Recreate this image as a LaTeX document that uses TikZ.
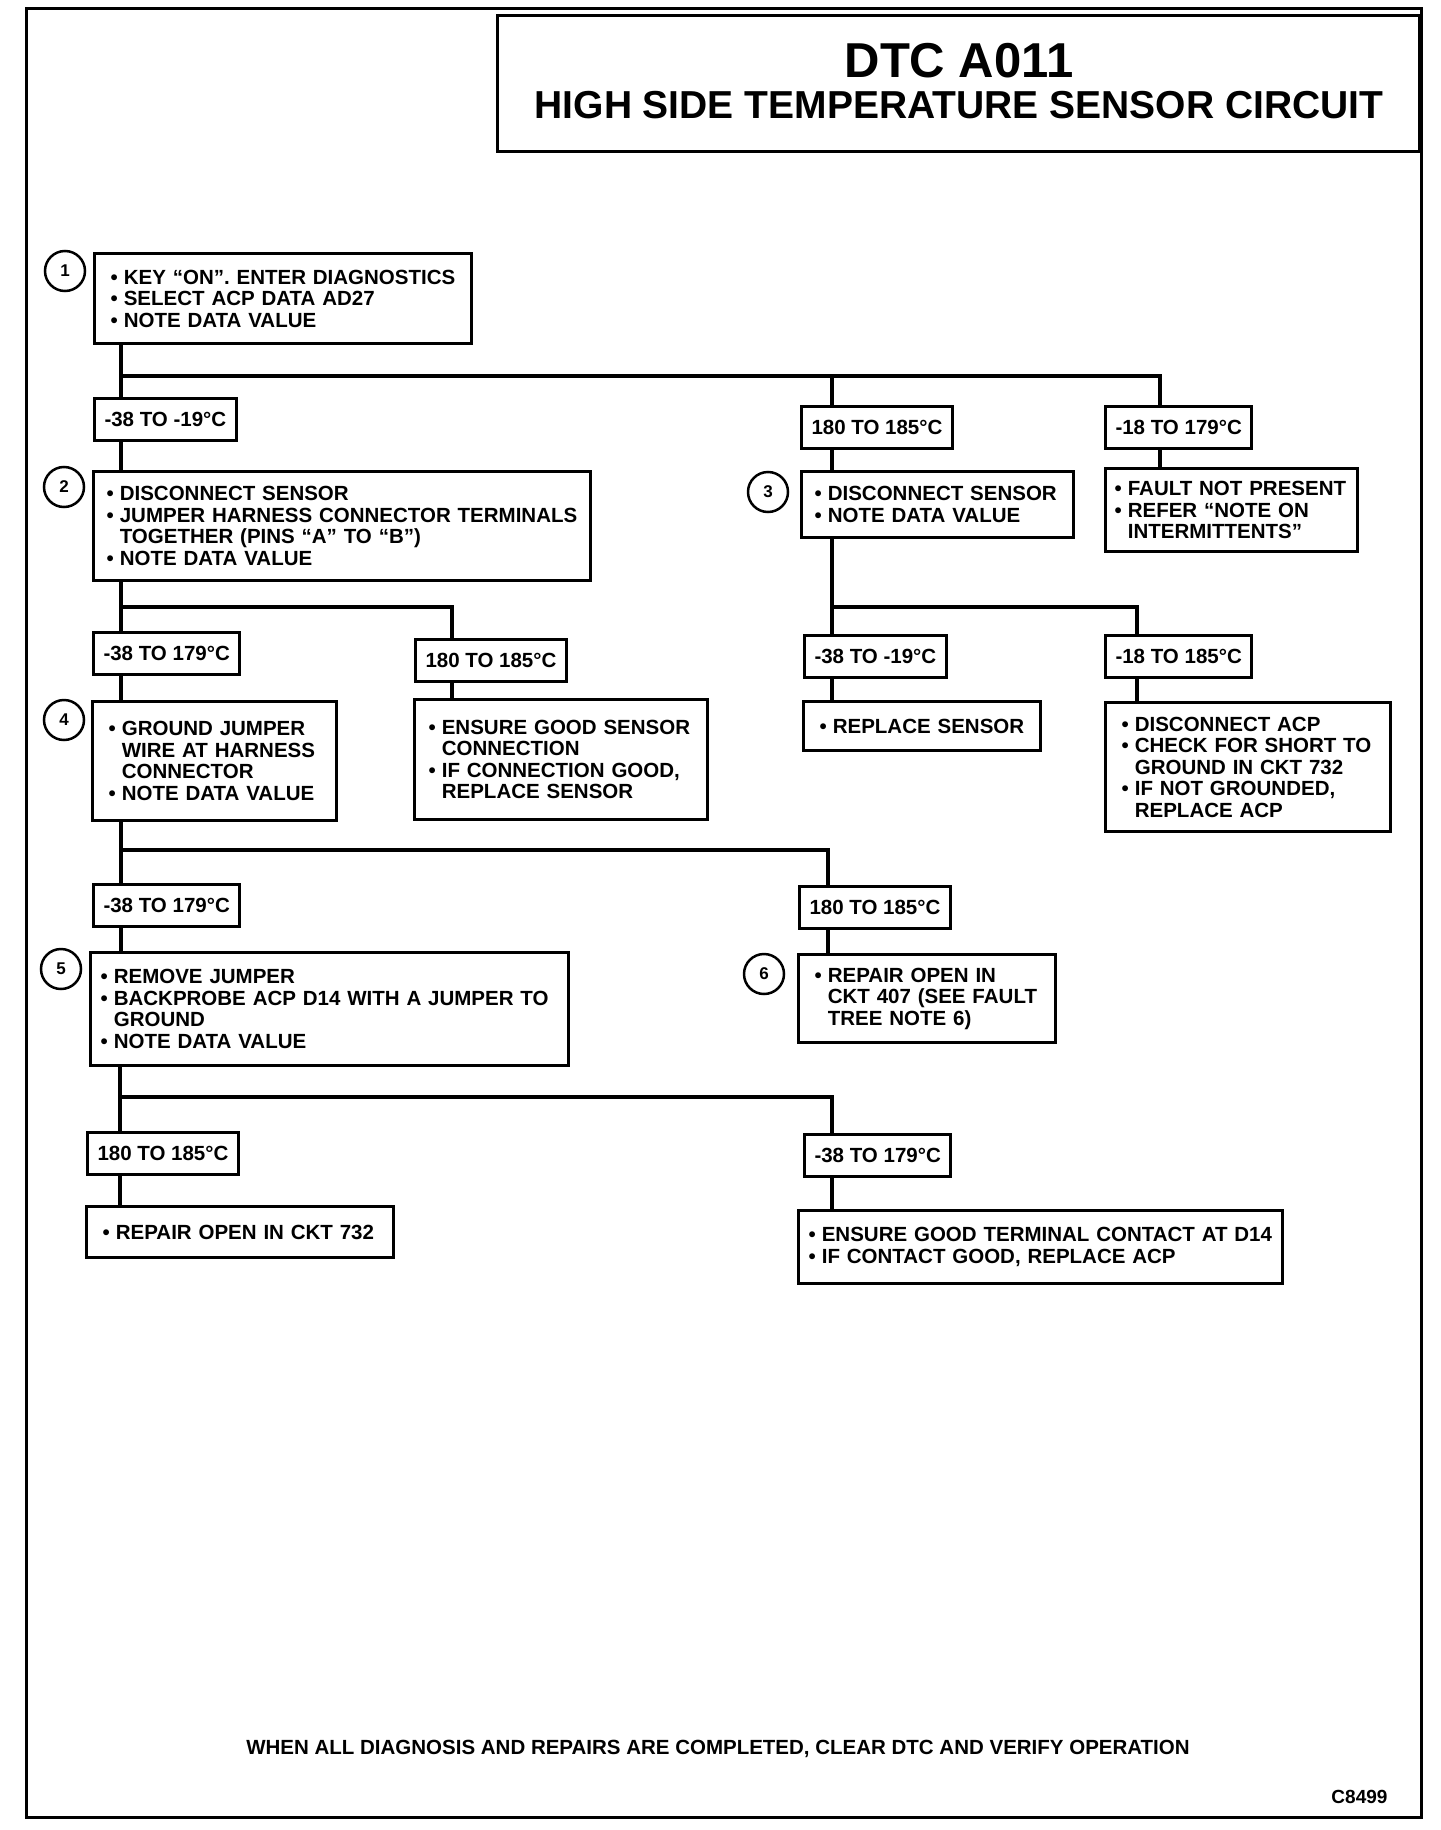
\documentclass[tikz,border=0pt]{standalone}
\usepackage{fontspec}
\setmainfont{Liberation Sans}
\newcommand{\bul}{\makebox[0.65em][l]{•}}
\newcommand{\ind}{\hspace*{0.65em}}
\tikzset{wire/.style={line width=4.5pt}}
\tikzset{stepbox/.style={draw,line width=3pt,anchor=north west,align=left,inner xsep=16pt,inner ysep=0pt}}
\tikzset{rangebox/.style={draw,line width=3pt,anchor=north west,inner xsep=10pt,inner ysep=0pt,minimum height=42pt}}
\tikzset{num/.style={draw,circle,line width=2.5pt,minimum size=40pt,inner sep=0pt,font=\fontsize{17}{17}\selectfont\bfseries}}
\begin{document}
\begin{tikzpicture}[x=1pt,y=-1pt,font=\fontsize{20.5}{21.5}\selectfont\bfseries]
\useasboundingbox(0,0)rectangle(1440,1830);
\draw[line width=3pt](26,9)rectangle(1421,1817);
\draw[line width=3pt](497,16)rectangle(1419,152);
\node(ttl)at(959,61){\fontsize{49}{49}\selectfont DTC A011};
\node(sub)at(959,105){\fontsize{39}{39}\selectfont HIGH SIDE TEMPERATURE SENSOR CIRCUIT};
\begin{scope}
\node(c1)[num]at(65,271){1};\node(c2)[num]at(64,487){2};\node(c3)[num]at(768,492){3};
\node(c4)[num]at(64,720){4};\node(c5)[num]at(61,969){5};\node(c6)[num]at(764,974){6};
\end{scope}
\node(s1)[stepbox,text width=345pt,minimum height=90pt]at(93,252){\bul KEY “ON”. ENTER DIAGNOSTICS\\\bul SELECT ACP DATA AD27\\\bul NOTE DATA VALUE};
\node(s2)[stepbox,inner xsep=13pt,text width=471pt,minimum height=109pt]at(92,470){\bul DISCONNECT SENSOR\\\bul JUMPER HARNESS CONNECTOR TERMINALS\\\ind TOGETHER (PINS “A” TO “B”)\\\bul NOTE DATA VALUE};
\node(s3)[stepbox,inner xsep=13pt,text width=246pt,minimum height=66pt]at(800,470){\bul DISCONNECT SENSOR\\\bul NOTE DATA VALUE};
\node(np)[stepbox,inner xsep=9pt,text width=234pt,minimum height=83pt]at(1104,467){\bul FAULT NOT PRESENT\\\bul REFER “NOTE ON\\\ind INTERMITTENTS”};
\node(s4)[stepbox,text width=212pt,minimum height=119pt]at(91,700){\bul GROUND JUMPER\\\ind WIRE AT HARNESS\\\ind CONNECTOR\\\bul NOTE DATA VALUE};
\node(ens)[stepbox,inner xsep=14pt,text width=265pt,minimum height=120pt]at(413,698){\bul ENSURE GOOD SENSOR\\\ind CONNECTION\\\bul IF CONNECTION GOOD,\\\ind REPLACE SENSOR};
\node(rep)[stepbox,text width=205pt,minimum height=49pt]at(802,700){\bul REPLACE SENSOR};
\node(dacp)[stepbox,text width=253pt,minimum height=129pt]at(1104,701){\bul DISCONNECT ACP\\\bul CHECK FOR SHORT TO\\\ind GROUND IN CKT 732\\\bul IF NOT GROUNDED,\\\ind REPLACE ACP};
\node(s5)[stepbox,inner xsep=10pt,text width=458pt,minimum height=113pt]at(89,951){\bul REMOVE JUMPER\\\bul BACKPROBE ACP D14 WITH A JUMPER TO\\\ind GROUND\\\bul NOTE DATA VALUE};
\node(s6)[stepbox,text width=225pt,minimum height=88pt]at(797,953){\bul REPAIR OPEN IN\\\ind CKT 407 (SEE FAULT\\\ind TREE NOTE 6)};
\node(rp732)[stepbox,text width=275pt,minimum height=51pt]at(85,1205){\bul REPAIR OPEN IN CKT 732};
\node(egt)[stepbox,inner xsep=10pt,text width=464pt,minimum height=73pt]at(797,1209){\bul ENSURE GOOD TERMINAL CONTACT AT D14\\\bul IF CONTACT GOOD, REPLACE ACP};
\node(r1a)[rangebox]at(93,397){-38 TO -19°C};\node(r1b)[rangebox]at(800,405){180 TO 185°C};\node(r1c)[rangebox]at(1104,405){-18 TO 179°C};
\node(r2a)[rangebox]at(92,631){-38 TO 179°C};\node(r2b)[rangebox]at(414,638){180 TO 185°C};
\node(r3a)[rangebox]at(803,634){-38 TO -19°C};\node(r3b)[rangebox]at(1104,634){-18 TO 185°C};
\node(r4a)[rangebox]at(92,883){-38 TO 179°C};\node(r4b)[rangebox]at(798,885){180 TO 185°C};
\node(r5a)[rangebox]at(86,1131){180 TO 185°C};\node(r5b)[rangebox]at(803,1133){-38 TO 179°C};
\coordinate(j1)at(121,376);\coordinate(j1b)at(832,376);\coordinate(j1c)at(1160,376);
\coordinate(j2)at(121,607);\coordinate(j2b)at(452,607);
\coordinate(j3)at(832,607);\coordinate(j3b)at(1137,607);
\coordinate(j4)at(121,850);\coordinate(j4b)at(828,850);
\coordinate(j5)at(120,1097);\coordinate(j5b)at(832,1097);
\draw[wire](s1.south -| j1)--(r1a.north -| j1);\draw[wire](j1)--(j1c)--(r1c.north -| j1c);\draw[wire](j1b)--(r1b.north -| j1b);
\draw[wire](r1a.south -| j1)--(s2.north -| j1);\draw[wire](r1b.south -| j1b)--(s3.north -| j1b);\draw[wire](r1c.south -| j1c)--(np.north -| j1c);
\draw[wire](s2.south -| j2)--(r2a.north -| j2);\draw[wire](j2)--(j2b)--(r2b.north -| j2b);
\draw[wire](r2a.south -| j2)--(s4.north -| j2);\draw[wire](r2b.south -| j2b)--(ens.north -| j2b);
\draw[wire](s3.south -| j3)--(r3a.north -| j3);\draw[wire](j3)--(j3b)--(r3b.north -| j3b);
\draw[wire](r3a.south -| j3)--(rep.north -| j3);\draw[wire](r3b.south -| j3b)--(dacp.north -| j3b);
\draw[wire](s4.south -| j4)--(r4a.north -| j4);\draw[wire](j4)--(j4b)--(r4b.north -| j4b);
\draw[wire](r4a.south -| j4)--(s5.north -| j4);\draw[wire](r4b.south -| j4b)--(s6.north -| j4b);
\draw[wire](s5.south -| j5)--(r5a.north -| j5);\draw[wire](j5)--(j5b)--(r5b.north -| j5b);
\draw[wire](r5a.south -| j5)--(rp732.north -| j5);\draw[wire](r5b.south -| j5b)--(egt.north -| j5b);
\node(foot)at(718,1749){WHEN ALL DIAGNOSIS AND REPAIRS ARE COMPLETED, CLEAR DTC AND VERIFY OPERATION};
\node(code)[anchor=east,font=\fontsize{19}{19}\selectfont\bfseries]at(1391,1797){C8499};
\end{tikzpicture}
\end{document}
